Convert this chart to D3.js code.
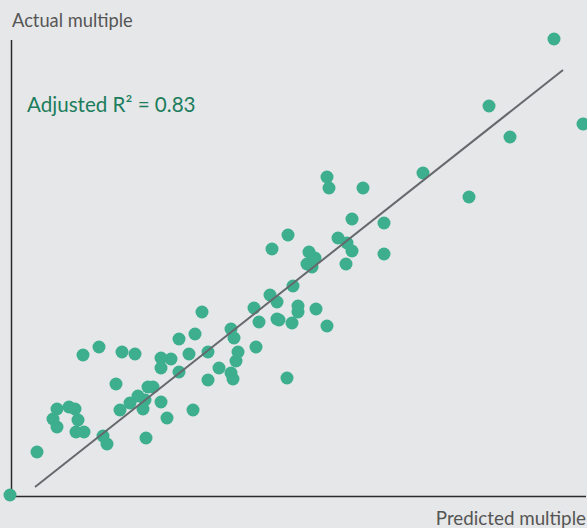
<!DOCTYPE html>
<html>
<head>
<meta charset="utf-8">
<script src="https://cdn.jsdelivr.net/npm/d3@7/dist/d3.min.js"></script>
<style>
  html, body { margin: 0; padding: 0; background: #e6e7e8; }
  svg { display: block; }
</style>
</head>
<body>
<svg id="chart" width="587" height="528"></svg>
<script>
// Predicted multiple (x) and actual multiple (y)
const predicted = [0.00, 1.08, 1.72, 1.88, 1.88, 2.36, 2.60, 2.72, 2.64, 2.96,
  2.92, 3.56, 3.72, 3.88, 4.24, 4.48, 5.00, 4.40, 4.80, 5.12,
  5.40, 5.32, 5.52, 5.72, 5.44, 6.04, 6.04, 6.04, 6.28, 6.44,
  6.76, 6.76, 7.16, 7.40, 7.32, 7.68, 7.92, 7.92, 8.36, 8.84,
  8.84, 8.92, 8.96, 9.04, 9.12, 9.84, 9.76, 9.96, 10.40, 10.68,
  10.68, 10.76, 11.08, 11.32, 11.28, 11.52, 11.52, 12.24, 12.68, 10.48,
  11.12, 11.88, 11.96, 12.20, 12.08, 12.68, 12.76, 13.44, 13.12, 13.48,
  13.68, 13.68, 14.12, 14.96, 14.96, 16.52, 18.36, 19.16, 20.00, 21.76,
  22.92];
const actual = [0.00, 1.72, 3.04, 3.44, 2.72, 3.52, 3.44, 3.00, 2.52, 2.52,
  5.60, 5.92, 2.36, 2.04, 4.44, 5.72, 5.64, 3.40, 3.68, 3.96,
  3.80, 3.44, 4.32, 4.32, 2.28, 5.48, 5.08, 3.72, 3.08, 5.44,
  4.92, 6.24, 5.64, 6.44, 3.40, 7.32, 5.72, 4.60, 5.08, 6.64,
  4.88, 4.64, 6.28, 5.36, 5.72, 5.92, 7.48, 6.92, 8.00, 7.72,
  7.04, 7.00, 4.68, 8.36, 6.88, 7.56, 7.32, 7.44, 6.76, 9.84,
  10.40, 9.24, 9.72, 9.48, 9.12, 12.72, 12.28, 9.24, 10.28, 10.08,
  9.76, 11.04, 12.28, 10.88, 9.64, 12.88, 11.92, 15.56, 14.32, 18.24,
  14.84];

// Regression (fitted) line endpoints
const trendX = [1.00, 22.12];
const trendY = [0.32, 17.00];

const labels = {
  yAxis: "Actual multiple",
  xAxis: "Predicted multiple",
  fit: "Adjusted R\u00B2 = 0.83"
};

const svg = d3.select("#chart");

const x = d3.scaleLinear().domain([0, 23]).range([10, 585]);
const y = d3.scaleLinear().domain([0, 18.3]).range([495, 37.5]);

// axes (plain lines, no ticks)
svg.append("line")
  .attr("x1", x(0) + 1.5).attr("x2", x(0) + 1.5)
  .attr("y1", 40).attr("y2", y(0) + 2.5)
  .attr("stroke", "#2b2b2b").attr("stroke-width", 1.5);
svg.append("line")
  .attr("x1", x(0) + 0.8).attr("x2", 586)
  .attr("y1", y(0) + 1.6).attr("y2", y(0) + 1.6)
  .attr("stroke", "#2b2b2b").attr("stroke-width", 1.5);

// axis labels
svg.append("text")
  .attr("x", 12).attr("y", 27)
  .attr("font-family", "Lato, sans-serif")
  .attr("font-size", 18.3)
  .attr("fill", "#555555")
  .text(labels.yAxis);

svg.append("text")
  .attr("x", 586).attr("y", 525)
  .attr("text-anchor", "end")
  .attr("font-family", "Lato, sans-serif")
  .attr("font-size", 18.8)
  .attr("fill", "#555555")
  .text(labels.xAxis);

// R² annotation
svg.append("text")
  .attr("x", 27).attr("y", 112)
  .attr("font-family", "Lato, sans-serif")
  .attr("font-size", 20.6)
  .attr("fill", "#1c7d5d")
  .text(labels.fit);

// points
const pts = predicted.map((p, i) => ({ p, a: actual[i] }));
svg.append("g")
  .selectAll("circle")
  .data(pts)
  .join("circle")
  .attr("cx", d => x(d.p))
  .attr("cy", d => y(d.a))
  .attr("r", 6.5)
  .attr("fill", "#3daf8f");

// trend line (on top)
svg.append("line")
  .attr("x1", x(trendX[0])).attr("y1", y(trendY[0]))
  .attr("x2", x(trendX[1])).attr("y2", y(trendY[1]))
  .attr("stroke", "#65696d")
  .attr("stroke-width", 2);
</script>
</body>
</html>
